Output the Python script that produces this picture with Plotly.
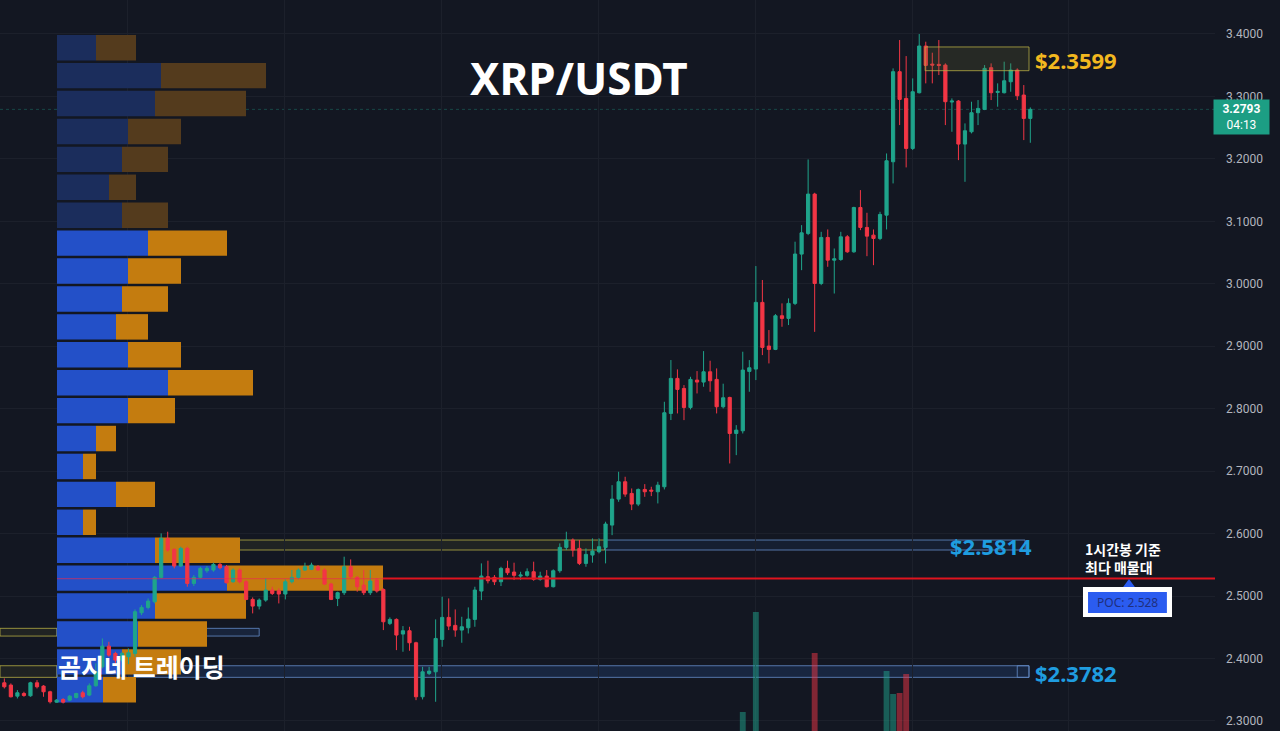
import plotly.graph_objects as go

# ---------------- candle data (1h, XRP/USDT) ----------------
opens = [2.3611,2.3574,2.3397,2.3440,2.3403,2.3611,2.3558,2.3467,2.3301,2.3344,
         2.3333,2.3376,2.3451,2.3414,2.3563,2.3867,2.4198,2.4081,2.3974,2.4028,
         2.4081,2.4733,2.4818,2.4909,2.5299,2.5923,2.5747,2.5480,2.5763,2.5202,
         2.5299,2.5405,2.5416,2.5507,2.5469,2.5229,2.5416,2.5229,2.4946,2.4839,
         2.4935,2.5096,2.5085,2.5032,2.5229,2.5299,2.5416,2.5427,2.5469,2.5416,
         2.5192,2.4962,2.5053,2.5469,2.5299,2.5176,2.5053,2.5256,2.5106,2.4562,
         2.4626,2.4391,2.4444,2.4252,2.3387,2.3761,2.3787,2.4305,2.4658,2.4530,
         2.4455,2.4492,2.4626,2.5080,2.5309,2.5299,2.5229,2.5443,2.5384,2.5320,
         2.5331,2.5389,2.5267,2.5320,2.5149,2.5405,2.5779,2.5897,2.5763,2.5523,
         2.5656,2.5710,2.5779,2.6136,2.6552,2.6830,2.6643,2.6472,2.6707,2.6696,
         2.6670,2.6750,2.7924,2.8485,2.8324,2.8020,2.8458,2.8426,2.8591,2.8469,
         2.8031,2.8180,2.7603,2.7646,2.8597,2.8634,2.9702,2.9003,2.8949,2.9488,
         2.9446,2.9686,3.0475,3.0806,3.1436,3.0005,3.0742,3.0378,3.0389,3.0752,
         3.0512,3.1222,3.0902,3.0779,3.0726,3.1099,3.1954,3.3396,3.2968,3.2167,
         3.3059,3.3807,3.3518,3.3513,3.3502,3.2910,3.2926,3.2237,3.2434,3.2739,
         3.2792,3.3460,3.3064,3.3059,3.3235,3.3422,3.3022,3.2648]
highs = [2.3681,2.3601,2.3494,2.3467,2.3627,2.3654,2.3574,2.3483,2.3349,2.3365,
         2.3414,2.3451,2.3483,2.3601,2.3921,2.4321,2.4268,2.4108,2.4108,2.4161,
         2.4786,2.4855,2.4962,2.5320,2.6003,2.6030,2.5763,2.5790,2.5790,2.5336,
         2.5469,2.5480,2.5534,2.5534,2.5496,2.5443,2.5443,2.5256,2.4978,2.4962,
         2.5283,2.5149,2.5122,2.5267,2.5416,2.5443,2.5534,2.5534,2.5496,2.5443,
         2.5213,2.5069,2.5630,2.5587,2.5320,2.5416,2.5416,2.5283,2.5122,2.4658,
         2.4642,2.4519,2.4508,2.4268,2.3867,2.3867,2.4626,2.4989,2.4962,2.4786,
         2.4668,2.4818,2.5149,2.5523,2.5566,2.5336,2.5469,2.5566,2.5534,2.5389,
         2.5443,2.5550,2.5389,2.5416,2.5427,2.5843,2.6030,2.5923,2.5897,2.5763,
         2.5923,2.5923,2.6190,2.6776,2.6990,2.6910,2.6723,2.6723,2.6792,2.6750,
         2.6830,2.8111,2.8779,2.8629,2.8378,2.8511,2.8602,2.8922,2.8768,2.8645,
         2.8400,2.8191,2.7737,2.8912,2.8778,3.0284,3.0060,2.9259,2.9515,2.9686,
         2.9766,3.0674,3.0939,3.1991,3.1457,3.0832,3.0870,3.0565,3.0832,3.0779,
         3.1233,3.1500,3.1137,3.0870,3.1153,3.2087,3.3449,3.3903,3.3646,3.3289,
         3.3999,3.3876,3.3700,3.3903,3.3529,3.2968,3.2942,3.2568,3.2915,3.2942,
         3.3502,3.3529,3.3209,3.3556,3.3529,3.3449,3.3182,3.2824]
lows = [2.3520,2.3376,2.3360,2.3387,2.3387,2.3520,2.3387,2.3280,2.3291,2.3280,
        2.3317,2.3360,2.3360,2.3397,2.3547,2.3840,2.4028,2.3921,2.3948,2.3910,
        2.4028,2.4695,2.4786,2.4882,2.5283,2.5710,2.5443,2.5469,2.5149,2.5160,
        2.5283,2.5373,2.5389,2.5427,2.5202,2.5213,2.5202,2.4935,2.4722,2.4786,
        2.4909,2.5016,2.4882,2.4946,2.5202,2.5267,2.5405,2.5416,2.5405,2.5176,
        2.4935,2.4839,2.5016,2.5283,2.5069,2.5016,2.5016,2.5053,2.4455,2.4535,
        2.4134,2.4108,2.4124,2.3333,2.3344,2.3734,2.3307,2.4188,2.4455,2.4348,
        2.4252,2.4401,2.4508,2.4935,2.5202,2.5176,2.5160,2.5336,2.5256,2.5256,
        2.5309,2.5245,2.5245,2.5138,2.5138,2.5373,2.5736,2.5630,2.5496,2.5469,
        2.5534,2.5683,2.5523,2.5975,2.6509,2.6589,2.6376,2.6440,2.6589,2.6600,
        2.6483,2.6707,2.7818,2.7924,2.7817,2.7988,2.8244,2.8351,2.8271,2.7924,
        2.8004,2.7123,2.7256,2.7603,2.8271,2.8458,2.8858,2.8725,2.8938,2.9312,
        2.9339,2.9659,3.0218,3.0779,2.9230,2.9978,3.0272,2.9844,3.0368,3.0496,
        3.0496,3.0859,3.0442,3.0298,3.0699,3.0870,3.1607,3.2541,3.1863,3.2141,
        3.3048,3.3209,3.3209,3.3342,3.2541,3.2434,3.1980,3.1633,3.2408,3.2541,
        3.2781,3.2942,3.2835,3.3048,3.3075,3.2942,3.2301,3.2258]
closes = [2.3547,2.3387,2.3451,2.3408,2.3611,2.3547,2.3467,2.3307,2.3333,2.3301,
          2.3397,2.3440,2.3387,2.3563,2.3787,2.4198,2.4054,2.3974,2.4081,2.4092,
          2.4749,2.4818,2.4919,2.5299,2.5923,2.5736,2.5480,2.5763,2.5202,2.5299,
          2.5443,2.5443,2.5507,2.5453,2.5213,2.5416,2.5229,2.4946,2.4839,2.4935,
          2.5096,2.5042,2.5032,2.5229,2.5299,2.5416,2.5469,2.5496,2.5416,2.5192,
          2.4946,2.5053,2.5469,2.5309,2.5149,2.5053,2.5240,2.5080,2.4588,2.4626,
          2.4375,2.4444,2.4252,2.3387,2.3787,2.3798,2.4321,2.4658,2.4519,2.4455,
          2.4508,2.4631,2.5096,2.5320,2.5245,2.5229,2.5443,2.5373,2.5331,2.5336,
          2.5389,2.5267,2.5320,2.5149,2.5405,2.5779,2.5897,2.5736,2.5523,2.5667,
          2.5720,2.5790,2.6153,2.6552,2.6830,2.6632,2.6472,2.6707,2.6670,2.6680,
          2.6776,2.7935,2.8485,2.8308,2.8020,2.8469,2.8426,2.8591,2.8447,2.8031,
          2.8175,2.7603,2.7657,2.8618,2.8655,2.9702,2.8981,2.8949,2.9488,2.9446,
          2.9686,3.0476,3.0816,3.1436,3.0005,3.0742,3.0378,3.0400,3.0752,3.0512,
          3.1222,3.0902,3.0763,3.0726,3.1110,3.1970,3.3396,3.2952,3.2167,3.3075,
          3.3807,3.3497,3.3502,3.3497,3.2915,3.2926,3.2237,3.2450,3.2739,3.2808,
          3.3449,3.3059,3.3080,3.3251,3.3422,3.3011,3.2648,3.2793]
candle_idx = list(range(len(opens)))

# visible part of the volume pane (bars rising above the cropped bottom edge)
vol_idx = [113, 115, 124, 135, 136, 137, 138]
vol_val = [180, 280, 239, 221, 198, 199, 218]

# ---------------- volume profile (visible range) ----------------
prof_levels = [3.3780, 3.3333, 3.2886, 3.2439, 3.1992, 3.1545, 3.1098, 3.0651,
               3.0204, 2.9757, 2.9310, 2.8863, 2.8416, 2.7969, 2.7522, 2.7075,
               2.6628, 2.6181, 2.5734, 2.5287, 2.4840, 2.4393, 2.3946, 2.3499]
prof_buy = [39, 104, 98, 71, 65, 52, 65, 91, 71, 65, 59, 71,
            111, 71, 39, 26, 59, 26, 98, 170, 98, 81, 65, 46]
prof_sell = [40, 105, 91, 53, 46, 27, 46, 79, 53, 46, 32, 53,
             85, 47, 20, 13, 39, 13, 85, 156, 91, 69, 59, 33]
prof_in_value_area = [False]*7 + [True]*17

poc_price = 2.528
last_price = 3.2793
y_ticks = [2.3, 2.4, 2.5, 2.6, 2.7, 2.8, 2.9, 3.0, 3.1, 3.2, 3.3, 3.4]
grid_idx = [18.9, 42.9, 66.9, 90.9, 114.9, 138.9, 162.9]

# zones: (x0 idx, x1 idx, y0, y1)
zone_top = (140.9, 156.8, 3.3412, 3.3792)
zone_mid = (23.8, 91.9, 156.2, 2.5737, 2.5897)
zone_low = (-0.66, 8.06, 156.8, 2.3698, 2.3884)
zone_d = (-0.66, 8.06, 39.0, 2.4359, 2.4483)

BG = "#131722"
UP = "#1fa48b"
DN = "#f23645"
BLUE_B, ORANGE_B = "#2350c8", "#c47c0f"
BLUE_D, ORANGE_D = "#1b2d5c", "#543b1d"

fig = go.Figure()

fig.add_trace(go.Bar(
    x=prof_buy, y=prof_levels, orientation="h", xaxis="x", yaxis="y",
    width=0.0408, marker=dict(color=[BLUE_B if v else BLUE_D for v in prof_in_value_area], line=dict(width=0)),
    hoverinfo="skip", showlegend=False))
fig.add_trace(go.Bar(
    x=prof_sell, y=prof_levels, base=prof_buy, orientation="h", xaxis="x", yaxis="y",
    width=0.0408, marker=dict(color=[ORANGE_B if v else ORANGE_D for v in prof_in_value_area], line=dict(width=0)),
    hoverinfo="skip", showlegend=False))

fig.add_trace(go.Candlestick(
    x=candle_idx, open=opens, high=highs, low=lows, close=closes,
    xaxis="x2", yaxis="y",
    increasing=dict(line=dict(color=UP, width=1), fillcolor=UP),
    decreasing=dict(line=dict(color=DN, width=1), fillcolor=DN),
    hoverinfo="skip", showlegend=False))

vol_colors = ["rgba(31,164,139,0.5)" if closes[i] >= opens[i] else "rgba(242,54,69,0.5)" for i in vol_idx]
fig.add_trace(go.Bar(
    x=vol_idx, y=vol_val, xaxis="x2", yaxis="y2", width=0.9,
    marker=dict(color=vol_colors, line=dict(width=0)), hoverinfo="skip", showlegend=False))

shapes = []
def rect(x0, x1, y0, y1, line, fill, layer="below", width=1):
    shapes.append(dict(type="rect", xref="x2", yref="y", x0=x0, x1=x1, y0=y0, y1=y1,
                       line=dict(color=line, width=width), fillcolor=fill, layer=layer))

YL = "rgba(190,180,70,0.75)"
BL = "rgba(100,140,200,0.8)"
rect(zone_top[0], zone_top[1], zone_top[2], zone_top[3], YL, "rgba(110,110,50,0.22)", layer="above")
rect(zone_mid[0], zone_mid[1], zone_mid[3], zone_mid[4], YL, "rgba(110,110,50,0.15)")
rect(zone_mid[1], zone_mid[2], zone_mid[3], zone_mid[4], BL, "rgba(40,70,120,0.18)")
rect(zone_low[0], zone_low[1], zone_low[3], zone_low[4], YL, "rgba(110,110,50,0.15)")
rect(zone_low[1], zone_low[2], zone_low[3], zone_low[4], BL, "rgba(35,65,120,0.35)")
rect(155.0, zone_low[2], zone_low[3], zone_low[4], BL, "rgba(0,0,0,0)")
rect(zone_d[0], zone_d[1], zone_d[3], zone_d[4], YL, "rgba(110,110,50,0.15)")
rect(zone_d[1], zone_d[2], zone_d[3], zone_d[4], BL, "rgba(35,65,120,0.3)")

# current price dotted line
shapes.append(dict(type="line", xref="x2", yref="y", x0=-0.66, x1=185.26, y0=last_price, y1=last_price,
                   line=dict(color="rgba(31,164,139,0.35)", width=1, dash="dot"), layer="below"))
# POC line
shapes.append(dict(type="line", xref="x2", yref="y", x0=8.06, x1=57.94, y0=poc_price, y1=poc_price,
                   line=dict(color="rgba(235,40,80,0.55)", width=1.2)))
shapes.append(dict(type="line", xref="x2", yref="y", x0=57.94, x1=185.26, y0=poc_price, y1=poc_price,
                   line=dict(color="#e0141e", width=2)))
# POC callout
shapes.append(dict(type="rect", xref="x2", yref="y", x0=165.06, x1=178.68, y0=2.4664, y1=2.5144,
                   line=dict(width=0), fillcolor="#ffffff"))
shapes.append(dict(type="rect", xref="x2", yref="y", x0=165.83, x1=177.9, y0=2.4728, y1=2.5064,
                   line=dict(width=0), fillcolor="#2b5cf0"))
shapes.append(dict(type="path", xref="x2", yref="y",
                   path="M 171.2 2.5144 L 173.0 2.5144 L 172.1 2.5272 Z",
                   line=dict(width=0), fillcolor="#2b5cf0"))

annotations = [
    dict(text="<b>XRP/USDT</b>", xref="paper", yref="paper", x=0.4765, y=0.8933,
         xanchor="center", yanchor="middle", showarrow=False,
         font=dict(family="Noto Sans", size=44, color="#ffffff")),
    dict(text="<b>$2.3599</b>", xref="x2", yref="y", x=157.4, y=3.3584, xanchor="left", yanchor="middle",
         showarrow=False, font=dict(family="Noto Sans", size=22, color="#f2b81f")),
    dict(text="<b>$2.5814</b>", xref="x2", yref="y", x=144.4, y=2.5801, xanchor="left", yanchor="middle",
         showarrow=False, font=dict(family="Noto Sans", size=22, color="#1f9de0")),
    dict(text="<b>$2.3782</b>", xref="x2", yref="y", x=157.4, y=2.3767, xanchor="left", yanchor="middle",
         showarrow=False, font=dict(family="Noto Sans", size=22, color="#1f9de0")),
    dict(text="<b>곰지네 트레이딩</b>", xref="paper", yref="paper", x=0.0460, y=0.0889,
         xanchor="left", yanchor="middle", showarrow=False,
         font=dict(family="Noto Sans CJK KR", size=25, color="#ffffff")),
    dict(text="<b>1시간봉 기준</b><br><b>최다 매물대</b>", xref="x2", yref="y", x=165.0, y=2.5608,
         xanchor="left", yanchor="middle", align="left", showarrow=False,
         font=dict(family="Noto Sans CJK KR", size=14, color="#ffffff")),
    dict(text="POC: 2.528", xref="x2", yref="y", x=171.8, y=2.4896, xanchor="center", yanchor="middle",
         showarrow=False, font=dict(family="Noto Sans", size=12, color="#1f2f7e")),
    dict(text="<b>3.2793</b><br>04:13", xref="paper", yref="y", x=1.0214, y=3.2671,
         xanchor="center", yanchor="middle", showarrow=False, bgcolor="#1c9e84",
         width=55, height=34, borderpad=0,
         font=dict(family="Roboto", size=12, color="#ffffff")),
]

fig.update_layout(
    width=1280, height=731,
    margin=dict(l=0, r=65, t=0, b=0),
    paper_bgcolor=BG, plot_bgcolor=BG,
    barmode="overlay",
    xaxis=dict(range=[-57, 1158], visible=False, fixedrange=True),
    xaxis2=dict(overlaying="x", range=[-0.6626, 185.26], showticklabels=False, ticks="",
                tickvals=grid_idx, showgrid=True, gridcolor="#1c202b", zeroline=False,
                showline=False, rangeslider=dict(visible=False)),
    yaxis=dict(side="right", range=[2.2839, 3.4544], tickvals=y_ticks, tickformat=".4f",
               showgrid=True, gridcolor="#1c202b", zeroline=False, showline=False, ticks="",
               ticklabelstandoff=10,
               tickfont=dict(family="Roboto", size=12, color="#b2b5be")),
    yaxis2=dict(overlaying="y", range=[161, 892], visible=False),
    shapes=shapes,
    annotations=annotations,
    showlegend=False,
)

fig.write_html("out.html",
               config={"displayModeBar": False},
               post_script="document.body.style.margin='0';document.body.style.overflow='hidden';"
                           "document.body.style.background='#131722';")
